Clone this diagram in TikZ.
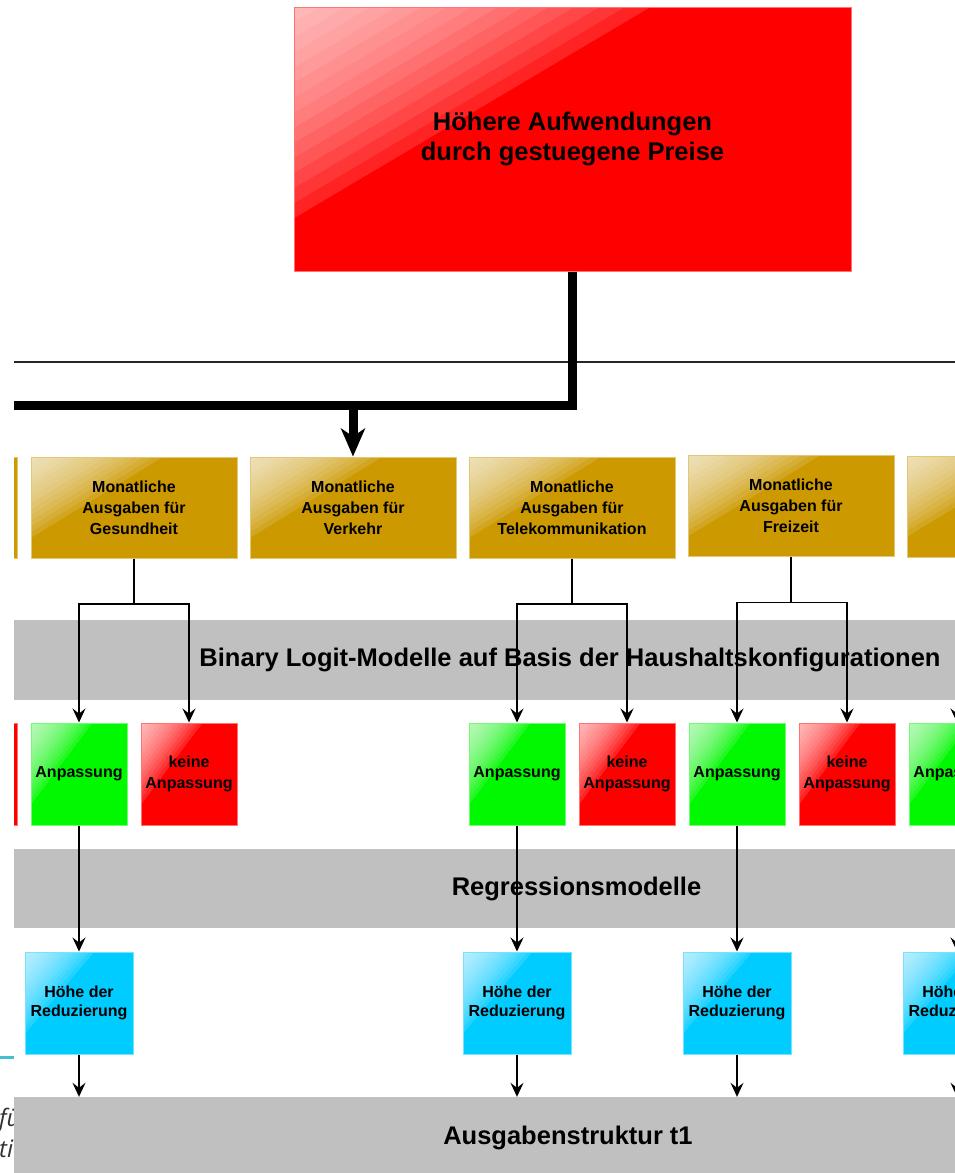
\documentclass[tikz,border=0pt]{standalone}
\usepackage{fontspec}
\setmainfont{Liberation Sans}
\newfontfamily\italfont{Open Sans}
\usetikzlibrary{arrows.meta,calc}
\definecolor{boxred}{HTML}{FF0000}
\definecolor{boxgold}{HTML}{CC9900}
\definecolor{boxgreen}{HTML}{00F800}
\definecolor{boxcyan}{HTML}{00CCFF}
\definecolor{bandgray}{HTML}{C0C0C0}
\definecolor{leftcyan}{HTML}{40C0D0}
\tikzset{
  glossy/.style={rectangle, fill=#1, draw=#1!55!white, line width=1pt, inner sep=0pt, align=center, text=black,
    path picture={
      \coordinate (ppNW) at (path picture bounding box.north west);
      \coordinate (ppNE) at (path picture bounding box.north east);
      \coordinate (ppSW) at (path picture bounding box.south west);
      \foreach \s [evaluate=\s as \fx using \s*0.64/14, evaluate=\s as \fy using \s*0.8/14] in {1,...,14} {
        \fill[white, opacity=0.085] (ppNW) -- ($(ppNW)!\fx!(ppNE)$) -- ($(ppNW)!\fy!(ppSW)$) -- cycle;
      }
      \fill[white, opacity=0.06] (ppNW) -- ($(ppNW)!0.64!(ppNE)$) -- ($(ppNW)!0.8!(ppSW)$) -- cycle;
    }},
  topbox/.style={glossy=boxred, minimum width=557pt, minimum height=264pt, font=\fontsize{25.5}{30}\selectfont\bfseries},
  goldbox/.style={glossy=boxgold, minimum width=206pt, minimum height=101pt, font=\fontsize{16}{21}\selectfont\bfseries},
  yesbox/.style={glossy=boxgreen, minimum width=96pt, minimum height=102pt, font=\fontsize{16}{21}\selectfont\bfseries},
  nobox/.style={glossy=boxred, minimum width=96pt, minimum height=102pt, font=\fontsize{16}{21}\selectfont\bfseries},
  redbox/.style={glossy=boxcyan, minimum width=108pt, minimum height=102pt, font=\fontsize{16}{19.5}\selectfont\bfseries},
  band/.style={rectangle, fill=bandgray, draw=none, inner sep=0pt, minimum width=1200pt, font=\fontsize{25.5}{30}\selectfont\bfseries},
  thinarrow/.style={draw=black, line width=1.3pt, -{Stealth[length=14pt,width=13pt,inset=5pt]}},
  thickline/.style={draw=black, line width=9pt, line join=miter},
  thickarrow/.style={draw=black, line width=9pt, -{Stealth[length=28pt,width=24pt,inset=8pt]}},
}
\begin{document}
\begin{tikzpicture}[x=1pt,y=-1pt]
\useasboundingbox (0,0) rectangle (955,1173);
% left margin remnants of the surrounding page
\begin{scope}
  \clip (0,0) rectangle (14,1173);
  \draw[leftcyan, line width=3pt] (0,1057) -- (14,1057);
  \node[anchor=base west, inner sep=0pt, font=\italfont\itshape\fontsize{24}{28}\selectfont, text=black!80] (fu) at (-1,1126) {für};
  \node[anchor=base west, inner sep=0pt, font=\italfont\itshape\fontsize{24}{28}\selectfont, text=black!80] (ti) at (-1,1157) {ti};
\end{scope}
\begin{scope}
  \clip (14,0) rectangle (955,1173);
  % bands
  \node[band, minimum height=80pt] (b1) at (570,660) {Binary Logit-Modelle auf Basis der Haushaltskonfigurationen};
  \node[band, minimum height=79pt] (b2) at (576.5,888.5) {Regressionsmodelle};
  \node[band, minimum height=82pt] (b3) at (568,1138) {Ausgabenstruktur t1};
  % thin separator
  \coordinate (sl) at (0,362);
  \coordinate (sr) at (955,362);
  \draw[line width=1.3pt, black!85] (sl) -- (sr);
  % top box
  \node[topbox] (top) at (572.5,139) {Höhere Aufwendungen\\durch gestuegene Preise};
  % gold boxes
  \node[goldbox] (gL) at (-86,507.5) {};
  \node[goldbox] (gG) at (134,507.5) {Monatliche\\Ausgaben für\\Gesundheit};
  \node[goldbox] (gV) at (353,507.5) {Monatliche\\Ausgaben für\\Verkehr};
  \node[goldbox] (gT) at (572,507.5) {Monatliche\\Ausgaben für\\Telekommunikation};
  \node[goldbox] (gF) at (791,506) {Monatliche\\Ausgaben für\\Freizeit};
  \node[goldbox] (gR) at (1010,506.5) {};
  % thick connector
  \coordinate (tl) at (0,405);
  \coordinate (tj) at (353,405);
  \draw[thickline] (top.south) |- (tl);
  \draw[thickarrow] (tj) -- (gV.north);
  % decision boxes
  \node[nobox] (nL) at (-31,774) {};
  \node[yesbox] (aG) at (79,774) {Anpassung};
  \node[nobox] (nG) at (189,774) {keine\\Anpassung};
  \node[yesbox] (aT) at (517,774) {Anpassung};
  \node[nobox] (nT) at (627,774) {keine\\Anpassung};
  \node[yesbox] (aF) at (737,774) {Anpassung};
  \node[nobox] (nF) at (847,774) {keine\\Anpassung};
  \node[yesbox] (aR) at (957,774) {Anpassung};
  % reduction boxes
  \node[redbox] (cG) at (79,1003) {Höhe der\\Reduzierung};
  \node[redbox] (cT) at (517,1003) {Höhe der\\Reduzierung};
  \node[redbox] (cF) at (737,1003) {Höhe der\\Reduzierung};
  \node[redbox] (cR) at (957,1003) {Höhe der\\Reduzierung};
  % connectors gold -> decision
  \foreach \g/\a/\n in {gG/aG/nG, gT/aT/nT, gF/aF/nF} {
    \draw[thinarrow] (\g.south) -- ++(0,45.5) -| (\a.north);
    \draw[thinarrow] (\g.south) -- ++(0,45.5) -| (\n.north);
  }
  \draw[thinarrow] (gR.south) -- ++(0,45.5) -| (aR.north);
  % decision -> reduction -> band 3
  \foreach \a/\c in {aG/cG, aT/cT, aF/cF, aR/cR} {
    \draw[thinarrow] (\a.south) -- (\c.north);
    \draw[thinarrow] (\c.south) -- (\c.south |- b3.north);
  }
\end{scope}
\end{tikzpicture}
\end{document}
